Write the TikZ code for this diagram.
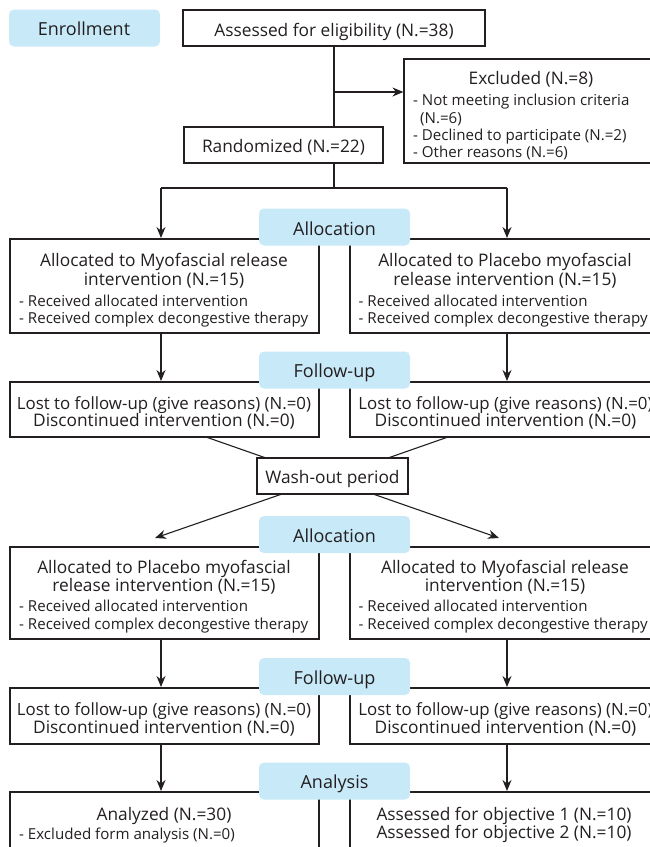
\documentclass[tikz,border=0pt]{standalone}
\usepackage{fontspec}
\setmainfont{Open Sans}
\usetikzlibrary{arrows.meta}
\definecolor{labblue}{RGB}{199,233,248}
\definecolor{ink}{RGB}{35,31,32}
\begin{document}
\begin{tikzpicture}[x=1pt,y=-1pt,
  box/.style={draw=ink,line width=1.1pt,fill=white,inner sep=0pt},
  lab/.style={fill=labblue,rounded corners=5pt,inner sep=0pt,minimum width=151pt,minimum height=37pt},
  labtxt/.style={anchor=mid,inner sep=0pt,yshift=-4.5pt,text=ink,font=\fontsize{18}{21}\selectfont},
  txt/.style={anchor=mid,inner sep=0pt,yshift=-4.5pt,text=ink,font=\fontsize{17.3}{20}\selectfont},
  lost/.style={txt,font=\fontsize{16.85}{20}\selectfont},
  sml/.style={anchor=mid west,inner sep=0pt,yshift=-4.5pt,text=ink,font=\fontsize{15.1}{17}\selectfont},
  con/.style={draw=ink,line width=1.1pt},
  arr/.style={con,-{Stealth[length=11pt,width=9pt]}}]
\useasboundingbox (0,0) rectangle (649,847);
% enrollment
\node[lab] (lenr) at (84.5,28) {};
\node[labtxt] (tenr) at (84,28) {Enrollment};
\node[box,minimum width=302pt,minimum height=36pt] (assess) at (334,28) {};
\node[txt] (tassess) at (334,29) {Assessed for eligibility (N.=38)};
\node[box,minimum width=254pt,minimum height=104pt] (excl) at (531,111) {};
\node[txt] (texcl) at (531,77) {Excluded (N.=8)};
\node[sml] (ex1) at (413,98) {- Not meeting inclusion criteria};
\node[sml] (ex2) at (420,116) {(N.=6)};
\node[sml] (ex3) at (413,133) {- Declined to participate (N.=2)};
\node[sml] (ex4) at (413,150) {- Other reasons (N.=6)};
\node[box,minimum width=199pt,minimum height=36pt] (rand) at (283.5,145) {};
\node[txt] (trand) at (283.5,145) {Randomized (N.=22)};
\coordinate (c0) at (334,46);
\coordinate (c1) at (334,92);
\coordinate (c2) at (334,127);
\coordinate (c3) at (334,163);
\coordinate (c4) at (334,188);
\coordinate (sl) at (161,188);
\coordinate (sr) at (507,188);
\draw[con] (c0) -- (c2);
\draw[arr] (c1) -- (excl.west |- c1);
\draw[con] (c3) -- (c4);
\draw[con] (sl) -- (sr);
% row 1
\node[box,minimum width=309pt,minimum height=94pt] (a1l) at (164.5,286) {};
\node[box,minimum width=309pt,minimum height=94pt] (a1r) at (504.5,286) {};
\draw[arr] (sl) -- (161,238);
\draw[arr] (sr) -- (507,238);
\node[lab] (lal1) at (334.5,227) {};
\node[labtxt] (tal1) at (334.5,228) {Allocation};
\node[txt] (a1l1) at (164,259) {Allocated to Myofascial release};
\node[txt] (a1l2) at (164,278) {intervention (N.=15)};
\node[sml] (a1l3) at (19,299) {- Received allocated intervention};
\node[sml] (a1l4) at (19,316) {- Received complex decongestive therapy};
\node[txt] (a1r1) at (505,259) {Allocated to Placebo myofascial};
\node[txt] (a1r2) at (505,278) {release intervention (N.=15)};
\node[sml] (a1r3) at (358.5,299) {- Received allocated intervention};
\node[sml] (a1r4) at (358.5,316) {- Received complex decongestive therapy};
% follow-up 1
\node[box,minimum width=309pt,minimum height=55pt] (f1l) at (164.5,409.5) {};
\node[box,minimum width=309pt,minimum height=55pt] (f1r) at (504.5,409.5) {};
\draw[arr] (161,333) -- (161,381);
\draw[arr] (507,333) -- (507,381);
\node[lab] (lfu1) at (334.5,370) {};
\node[labtxt] (tfu1) at (334.5,370) {Follow-up};
\node[lost] (f1l1) at (164,402) {Lost to follow-up (give reasons) (N.=0)};
\node[txt] (f1l2) at (164,419) {Discontinued intervention (N.=0)};
\node[lost] (f1r1) at (505.5,402) {Lost to follow-up (give reasons) (N.=0)};
\node[txt] (f1r2) at (505.5,419) {Discontinued intervention (N.=0)};
% wash-out
\node[box,minimum width=151pt,minimum height=36pt] (wash) at (332.5,476) {};
\node[txt] (twash) at (332.5,476) {Wash-out period};
\draw[con] (206,437) -- (266,458);
\draw[con] (448,437) -- (388,458);
\draw[arr] (282,494) -- (155,538);
\draw[arr] (373,494) -- (499,538);
% row 2
\node[box,minimum width=309pt,minimum height=92pt] (a2l) at (164.5,593) {};
\node[box,minimum width=309pt,minimum height=92pt] (a2r) at (504.5,593) {};
\node[lab] (lal2) at (334.5,534.5) {};
\node[labtxt] (tal2) at (334.5,535) {Allocation};
\node[txt] (a2l1) at (164,566) {Allocated to Placebo myofascial};
\node[txt] (a2l2) at (164,584) {release intervention (N.=15)};
\node[sml] (a2l3) at (19,604) {- Received allocated intervention};
\node[sml] (a2l4) at (19,622) {- Received complex decongestive therapy};
\node[txt] (a2r1) at (505,566) {Allocated to Myofascial release};
\node[txt] (a2r2) at (505,584) {intervention (N.=15)};
\node[sml] (a2r3) at (358.5,604) {- Received allocated intervention};
\node[sml] (a2r4) at (358.5,622) {- Received complex decongestive therapy};
% follow-up 2
\node[box,minimum width=309pt,minimum height=56pt] (f2l) at (164.5,716) {};
\node[box,minimum width=309pt,minimum height=56pt] (f2r) at (504.5,716) {};
\draw[arr] (161,639) -- (161,687);
\draw[arr] (507,639) -- (507,687);
\node[lab] (lfu2) at (334.5,676.5) {};
\node[labtxt] (tfu2) at (334.5,677) {Follow-up};
\node[lost] (f2l1) at (164,708) {Lost to follow-up (give reasons) (N.=0)};
\node[txt] (f2l2) at (164,726) {Discontinued intervention (N.=0)};
\node[lost] (f2r1) at (505.5,708) {Lost to follow-up (give reasons) (N.=0)};
\node[txt] (f2r2) at (505.5,726) {Discontinued intervention (N.=0)};
% analysis
\node[box,minimum width=309pt,minimum height=80pt] (anl) at (164.5,832) {};
\node[box,minimum width=309pt,minimum height=80pt] (anr) at (504.5,832) {};
\draw[arr] (161,744) -- (161,791);
\draw[arr] (507,744) -- (507,791);
\node[lab] (lan) at (334.5,781) {};
\node[labtxt] (tan) at (334.5,781) {Analysis};
\node[txt] (anl1) at (164,813) {Analyzed (N.=30)};
\node[sml] (anl2) at (19,832) {- Excluded form analysis (N.=0)};
\node[txt] (anr1) at (504,813) {Assessed for objective 1 (N.=10)};
\node[txt] (anr2) at (504,831) {Assessed for objective 2 (N.=10)};
\end{tikzpicture}
\end{document}
